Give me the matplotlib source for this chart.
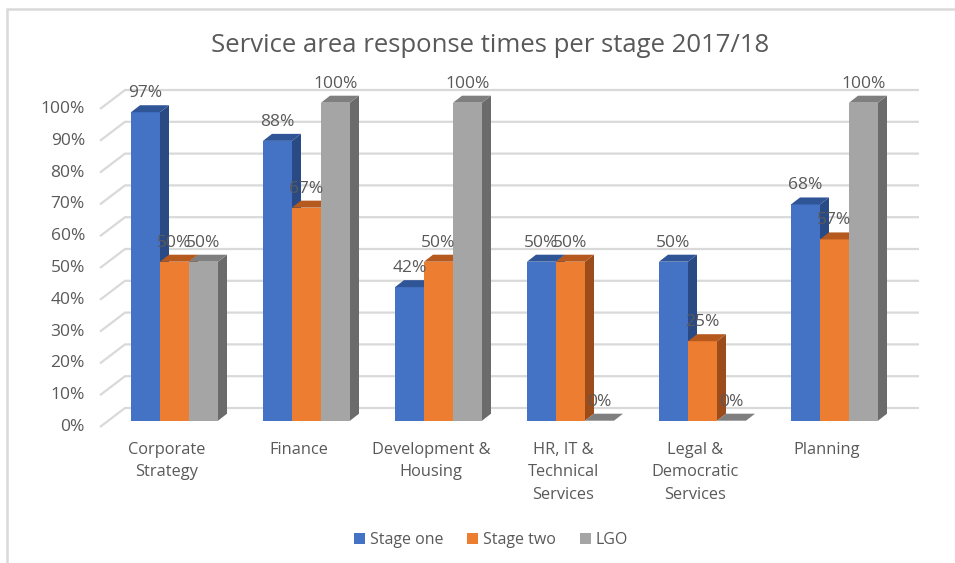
import matplotlib
matplotlib.use("Agg")
import matplotlib.pyplot as plt
from matplotlib.patches import Polygon, Rectangle, Patch
import numpy as np

plt.rcParams['font.family'] = ['Open Sans', 'DejaVu Sans']

categories = ["Corporate\nStrategy", "Finance", "Development &\nHousing",
              "HR, IT &\nTechnical\nServices", "Legal &\nDemocratic\nServices", "Planning"]
series_names = ["Stage one", "Stage two", "LGO"]
stage_one = [97, 88, 42, 50, 50, 68]
stage_two = [50, 67, 50, 50, 25, 57]
lgo = [50, 100, 100, 0, 0, 100]
yticks = list(range(0, 101, 10))
title = "Service area response times per stage 2017/18"

front_cols = ["#4472C4", "#ED7D31", "#A5A5A5"]
top_cols = ["#2F5597", "#B5591F", "#7F7F7F"]
side_cols = ["#2A4A85", "#9C4C1B", "#6B6B6B"]
text_col = "#595959"
grid_col = "#D9D9D9"

W, H, DPI = 955, 563, 100
fig = plt.figure(figsize=(W / DPI, H / DPI), dpi=DPI)

# layout in pixels
ax_l, ax_r, ax_t, ax_b = 100, 919, 90, 427
base_px = 420.7          # bar front base
px_per_pct = 3.18
cat_px0, cat_step = 174.5, 132.0
bar_w = 29 / cat_step

ax = fig.add_axes([ax_l / W, 1 - ax_b / H, (ax_r - ax_l) / W, (ax_b - ax_t) / H])
xl = ((ax_l - cat_px0) / cat_step, (ax_r - cat_px0) / cat_step)
yl = (-(ax_b - base_px) / px_per_pct, (base_px - ax_t) / px_per_pct)
ax.set_xlim(*xl)
ax.set_ylim(*yl)
ax.axis('off')

DX, DY = 9 / cat_step, 7 / px_per_pct          # bar depth
front_y = yl[0]                                   # front axis offset
back_y = (base_px - 408) / px_per_pct             # back wall offset
WX = 25 / cat_step

# gridlines
for v in yticks:
    ax.plot([xl[0], xl[0] + WX, xl[1]], [v + front_y, v + back_y, v + back_y],
            color=grid_col, lw=1.6, zorder=1, clip_on=False, solid_capstyle='butt')
    ax.text(xl[0] - 15 / cat_step, v + front_y, f"{v}%", ha='right', va='center',
            fontsize=12.5, color=text_col)

series = [stage_one, stage_two, lgo]
x = np.arange(len(categories))
z = 3
for i in range(len(categories)):
    for j, vals in enumerate(series):
        v = vals[i]
        x0 = x[i] + (j - 1.5) * bar_w
        x1 = x0 + bar_w
        if v > 0:
            ax.bar(x0, v, width=bar_w, align='edge', color=front_cols[j], zorder=z,
                   linewidth=0)
            side = Polygon([(x1, 0), (x1 + DX, DY), (x1 + DX, v + DY), (x1, v)],
                           closed=True, facecolor=side_cols[j], lw=0, zorder=z)
            ax.add_patch(side)
        top = Polygon([(x0, v), (x0 + DX, v + DY), (x1 + DX, v + DY), (x1, v)],
                      closed=True, facecolor=top_cols[j], lw=0, zorder=z)
        ax.add_patch(top)
        z += 1

for i in range(len(categories)):
    for j, vals in enumerate(series):
        v = vals[i]
        xc = x[i] + (j - 1) * bar_w
        ax.text(xc, v + 6, f"{v}%", ha='center', va='center', fontsize=12.5,
                color=text_col, zorder=100)

for i, c in enumerate(categories):
    ax.text(x[i] - 7.5 / cat_step, -6.6, c, ha='center', va='top', fontsize=11.8,
            color=text_col, linespacing=1.55, clip_on=False)

fig.text(490 / W, 1 - 45 / H, title, ha='center', va='center', fontsize=18.5,
         color=text_col)

handles = [Patch(facecolor=front_cols[j], edgecolor='none', label=series_names[j])
           for j in range(3)]
fig.legend(handles=handles, loc='center', bbox_to_anchor=(491 / W, 1 - 540 / H),
           ncol=3, frameon=False, fontsize=11.5, handlelength=0.7, handleheight=0.7,
           handletextpad=0.3, columnspacing=1.5, labelcolor=text_col)

fig.patches.append(Rectangle((7 / W, -0.1), 1.2, 1 - 9 / H + 0.1, transform=fig.transFigure,
                             fill=False, edgecolor=grid_col, lw=1.8, zorder=0))

fig.savefig("out.png", dpi=DPI)
